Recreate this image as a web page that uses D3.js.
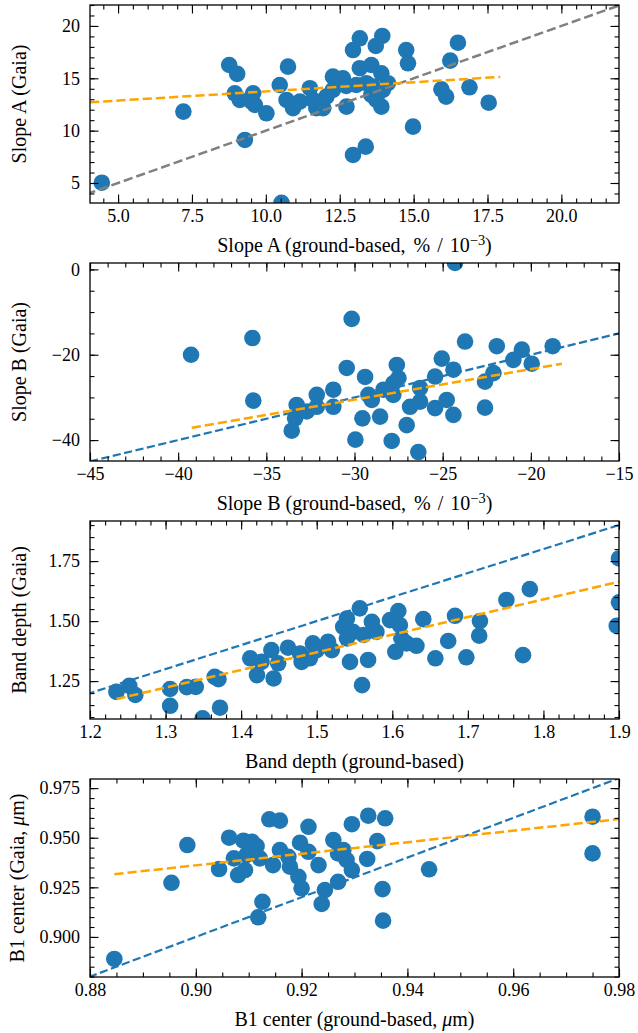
<!DOCTYPE html>
<html><head><meta charset="utf-8">
<script src="https://cdn.jsdelivr.net/npm/d3@7"></script>
<style>
body{margin:0;background:#fff}
svg text{font-family:"Liberation Serif","Times New Roman",serif;fill:#000}
</style>
</head><body>
<svg id="chart" width="638" height="1033"></svg>
<script>
// ---------- Panel 1: Slope A ----------
const slopeA_ground = [4.45,7.21,8.76,9.03,8.95,9.12,9.57,9.52,9.63,9.29,10.02,10.47,10.53,10.75,10.70,10.92,11.15,11.49,11.60,11.71,11.94,12.05,12.27,12.61,12.73,12.27,12.95,13.18,12.95,13.18,13.38,13.94,13.72,13.57,13.91,12.56,12.72,13.06,13.40,13.63,14.13,13.96,13.57,13.91,13.74,14.75,14.81,14.98,16.50,16.24,15.94,16.10,16.89,17.54];
const slopeA_gaia   = [5.03,11.82,16.27,15.42,13.57,12.93,13.57,12.77,12.45,9.11,11.66,14.36,3.10,16.11,12.93,12.14,12.77,14.05,12.93,12.14,12.14,13.25,15.16,15.00,12.29,13.89,7.68,18.82,17.70,15.96,8.47,19.04,18.09,16.27,15.48,14.84,14.27,14.36,14.53,14.20,14.53,13.89,13.41,12.29,12.93,17.70,16.43,10.38,18.40,16.69,13.95,13.25,14.14,12.67];
const fitA_x = [4.05, 17.93];
const fitA_y = [12.71, 15.13];
const xTicksA = [5.0,7.5,10.0,12.5,15.0,17.5,20.0];
const xTickLabelsA = ["5.0","7.5","10.0","12.5","15.0","17.5","20.0"];
const yTicksA = [5,10,15,20];
const yTickLabelsA = ["5","10","15","20"];

// ---------- Panel 2: Slope B ----------
const slopeB_ground = [-39.27,-35.79,-35.74,-30.16,-30.44,-33.56,-33.28,-33.37,-32.71,-32.14,-32.14,-31.20,-31.20,-29.55,-29.95,-29.40,-24.30,-29.21,-29.02,-28.55,-28.36,-27.80,-27.60,-27.51,-27.80,-27.89,-27.04,-26.85,-26.38,-26.28,-26.28,-25.43,-25.05,-25.43,-24.77,-24.39,-24.39,-23.73,-22.60,-22.12,-22.60,-21.93,-20.99,-20.51,-19.95,-18.76];
const slopeB_gaia   = [-20.0,-16.08,-30.75,-11.6,-23.1,-37.8,-31.76,-34.9,-33.3,-29.4,-32.2,-28.2,-32.2,-34.9,-39.9,-25.2,1.5,-29.4,-30.6,-34.5,-28.2,-29.4,-22.4,-25.5,-26.7,-40.2,-36.5,-32.2,-42.8,-27.8,-31.0,-25.1,-20.9,-32.5,-30.6,-23.5,-34.1,-16.9,-26.3,-24.3,-32.4,-18.0,-21.2,-18.8,-22.1,-18.0];
const fitB_x = [-39.23, -18.24];
const fitB_y = [-37.1, -22.1];
const xTicksB = [-45,-40,-35,-30,-25,-20,-15];
const xTickLabelsB = ["\u221245","\u221240","\u221235","\u221230","\u221225","\u221220","\u221215"];
const yTicksB = [-40,-20,0];
const yTickLabelsB = ["\u221240","\u221220","0"];

// ---------- Panel 3: Band depth ----------
const band_ground = [1.235,1.252,1.260,1.306,1.306,1.328,1.340,1.349,1.365,1.370,1.372,1.412,1.421,1.427,1.440,1.443,1.449,1.462,1.478,1.480,1.491,1.495,1.500,1.515,1.520,1.540,1.535,1.544,1.540,1.548,1.557,1.560,1.562,1.573,1.579,1.568,1.597,1.608,1.610,1.612,1.619,1.604,1.632,1.641,1.657,1.674,1.683,1.698,1.716,1.715,1.751,1.773,1.782,1.900,1.900,1.897];
const band_gaia   = [1.205,1.230,1.192,1.217,1.147,1.225,1.226,1.095,1.268,1.258,1.139,1.345,1.275,1.330,1.379,1.261,1.324,1.389,1.365,1.330,1.345,1.407,1.379,1.414,1.379,1.511,1.476,1.330,1.428,1.455,1.553,1.233,1.442,1.497,1.455,1.338,1.504,1.542,1.483,1.428,1.407,1.372,1.397,1.508,1.345,1.417,1.522,1.349,1.500,1.439,1.588,1.358,1.633,1.761,1.578,1.480];
const fitC_x = [1.235, 1.90];
const fitC_y = [1.175, 1.664];
const xTicksC = [1.2,1.3,1.4,1.5,1.6,1.7,1.8,1.9];
const xTickLabelsC = ["1.2","1.3","1.4","1.5","1.6","1.7","1.8","1.9"];
const yTicksC = [1.25,1.50,1.75];
const yTickLabelsC = ["1.25","1.50","1.75"];

// ---------- Panel 4: B1 center ----------
const b1_ground = [0.8846,0.8954,0.8984,0.9044,0.9063,0.9072,0.9090,0.9080,0.9093,0.9106,0.9115,0.9096,0.9121,0.9126,0.9118,0.9139,0.9159,0.9146,0.9159,0.9175,0.9178,0.9194,0.9200,0.9197,0.9213,0.9213,0.9232,0.9244,0.9238,0.9260,0.9269,0.9269,0.9279,0.9285,0.9295,0.9295,0.9326,0.9358,0.9343,0.9324,0.9353,0.9354,0.9441,0.9750,0.9750];
const b1_gaia   = [0.8889,0.9273,0.9463,0.9342,0.9500,0.9396,0.9485,0.9312,0.9337,0.9480,0.9458,0.9413,0.9396,0.9177,0.9099,0.9593,0.9586,0.9362,0.9438,0.9404,0.9354,0.9303,0.9245,0.9475,0.9555,0.9429,0.9362,0.9236,0.9166,0.9488,0.9421,0.9278,0.9438,0.9388,0.9337,0.9568,0.9611,0.9598,0.9483,0.9393,0.9241,0.9082,0.9341,0.9606,0.9421];
const fitD_x = [0.8846, 0.98];
const fitD_y = [0.9316, 0.9594];
const xTicksD = [0.88,0.90,0.92,0.94,0.96,0.98];
const xTickLabelsD = ["0.88","0.90","0.92","0.94","0.96","0.98"];
const yTicksD = [0.900,0.925,0.950,0.975];
const yTickLabelsD = ["0.900","0.925","0.950","0.975"];

// ---------- layout ----------
const svg = d3.select("#chart");
const L = 90, R = 619, PH = 198;
const BLUE = "#1f77b4", ORANGE = "#ffa500", GRAY = "#808080";

const slopeUnit = [["\u2009%","","4"],["/","","7"],["10","","7"],["\u22123","sup"],[")"]];
const panels = [
  {top:5, xd:[4.05,21.95], yd:[3.09,22.0], gx:slopeA_ground, gy:slopeA_gaia, fx:fitA_x, fy:fitA_y,
   xt:xTicksA, xl:xTickLabelsA, yt:yTicksA, yl:yTickLabelsA, xminor:0.5, yminor:1, idColor:GRAY, idW:2.5,
   xlabel:[["Slope A (ground-based,"]].concat(slopeUnit), ylabel:[["Slope A (Gaia)"]], ylx:19},
  {top:263, xd:[-45,-15], yd:[-44.9,1.5], gx:slopeB_ground, gy:slopeB_gaia, fx:fitB_x, fy:fitB_y,
   xt:xTicksB, xl:xTickLabelsB, yt:yTicksB, yl:yTickLabelsB, xminor:1, yminor:5, idColor:BLUE, idW:2.2,
   xlabel:[["Slope B (ground-based,"]].concat(slopeUnit), ylabel:[["Slope B (Gaia)"]], ylx:19},
  {top:521, xd:[1.2,1.9], yd:[1.092,1.917], gx:band_ground, gy:band_gaia, fx:fitC_x, fy:fitC_y,
   xt:xTicksC, xl:xTickLabelsC, yt:yTicksC, yl:yTickLabelsC, xminor:0.02, yminor:0.05, idColor:BLUE, idW:2.2,
   xlabel:[["Band depth (ground-based)"]], ylabel:[["Band depth (Gaia)"]], ylx:19},
  {top:779, xd:[0.88,0.98], yd:[0.8798,0.9796], gx:b1_ground, gy:b1_gaia, fx:fitD_x, fy:fitD_y,
   xt:xTicksD, xl:xTickLabelsD, yt:yTicksD, yl:yTickLabelsD, xminor:0.005, yminor:0.005, idColor:BLUE, idW:2.2,
   xlabel:[["B1 center (ground-based, "],["\u03bc","it"],["m)"]], ylabel:[["B1 center (Gaia, "],["\u03bc","it"],["m)"]], ylx:17}
];

function minorVals(d, step){
  const out=[]; const n0=Math.ceil(d[0]/step-1e-9), n1=Math.floor(d[1]/step+1e-9);
  for(let n=n0;n<=n1;n++) out.push(+(n*step).toFixed(6));
  return out;
}

function addRich(t, parts){
  parts.forEach(p=>{
    const ts = t.append("tspan").text(p[0]);
    if(p[1]==="sup"){ ts.attr("baseline-shift","48%").attr("font-size","0.72em"); }
    if(p[1]==="it"){ ts.attr("font-style","italic"); }
    if(p[2]){ ts.attr("dx",p[2]); }
  });
}

panels.forEach((p,i)=>{
  const T=p.top, B=p.top+PH;
  const x = d3.scaleLinear().domain(p.xd).range([L,R]);
  const y = d3.scaleLinear().domain(p.yd).range([B,T]);
  const g = svg.append("g");
  const cid = "clip"+i;
  g.append("clipPath").attr("id",cid).append("rect").attr("x",L).attr("y",T).attr("width",R-L).attr("height",PH);
  const plot = g.append("g").attr("clip-path",`url(#${cid})`);

  plot.selectAll("circle").data(p.gx.map((v,k)=>[v,p.gy[k]])).join("circle")
    .attr("cx",d=>x(d[0])).attr("cy",d=>y(d[1])).attr("r",8.3).attr("fill",BLUE);

  const lo = Math.min(p.xd[0],p.yd[0]), hi=Math.max(p.xd[1],p.yd[1]);
  plot.append("line").attr("x1",x(lo)).attr("y1",y(lo)).attr("x2",x(hi)).attr("y2",y(hi))
    .attr("stroke",p.idColor).attr("stroke-width",p.idW).attr("stroke-dasharray",p.idW===2.5?"9.2,4":"8.2,3.5");
  plot.append("line").attr("x1",x(p.fx[0])).attr("y1",y(p.fy[0])).attr("x2",x(p.fx[1])).attr("y2",y(p.fy[1]))
    .attr("stroke",ORANGE).attr("stroke-width",2.5).attr("stroke-dasharray","9.2,4");

  const MJ=8.5, MN=4.5;
  const style = sel=>{ sel.select(".domain").remove(); sel.selectAll("line").attr("stroke","#000").attr("stroke-width",1.1);
                        sel.attr("font-family",null).attr("font-size",18); };
  const xmin = minorVals(p.xd,p.xminor), ymin=minorVals(p.yd,p.yminor);
  g.append("g").attr("transform",`translate(0,${B})`)
    .call(d3.axisBottom(x).tickValues(p.xt).tickFormat((d,k)=>p.xl[k]).tickSize(-MJ).tickSizeOuter(0).tickPadding(6)).call(style);
  g.append("g").attr("transform",`translate(0,${B})`)
    .call(d3.axisBottom(x).tickValues(xmin).tickFormat("").tickSize(-MN).tickSizeOuter(0)).call(style);
  g.append("g").attr("transform",`translate(0,${T})`)
    .call(d3.axisTop(x).tickValues(p.xt).tickFormat("").tickSize(-MJ).tickSizeOuter(0)).call(style);
  g.append("g").attr("transform",`translate(0,${T})`)
    .call(d3.axisTop(x).tickValues(xmin).tickFormat("").tickSize(-MN).tickSizeOuter(0)).call(style);
  g.append("g").attr("transform",`translate(${L},0)`)
    .call(d3.axisLeft(y).tickValues(p.yt).tickFormat((d,k)=>p.yl[k]).tickSize(-MJ).tickSizeOuter(0).tickPadding(10)).call(style);
  g.append("g").attr("transform",`translate(${L},0)`)
    .call(d3.axisLeft(y).tickValues(ymin).tickFormat("").tickSize(-MN).tickSizeOuter(0)).call(style);
  g.append("g").attr("transform",`translate(${R},0)`)
    .call(d3.axisRight(y).tickValues(p.yt).tickFormat("").tickSize(-MJ).tickSizeOuter(0)).call(style);
  g.append("g").attr("transform",`translate(${R},0)`)
    .call(d3.axisRight(y).tickValues(ymin).tickFormat("").tickSize(-MN).tickSizeOuter(0)).call(style);

  g.append("rect").attr("x",L).attr("y",T).attr("width",R-L).attr("height",PH)
    .attr("fill","none").attr("stroke","#000").attr("stroke-width",1.3);

  const xl = g.append("text").attr("x",(L+R)/2).attr("y",B+49).attr("text-anchor","middle").attr("font-size",20);
  addRich(xl,p.xlabel);
  const yl = g.append("text").attr("transform",`translate(${p.ylx},${(T+B)/2}) rotate(-90)`)
    .attr("text-anchor","middle").attr("dy","0.35em").attr("font-size",20);
  addRich(yl,p.ylabel);
});
</script>
</body></html>
